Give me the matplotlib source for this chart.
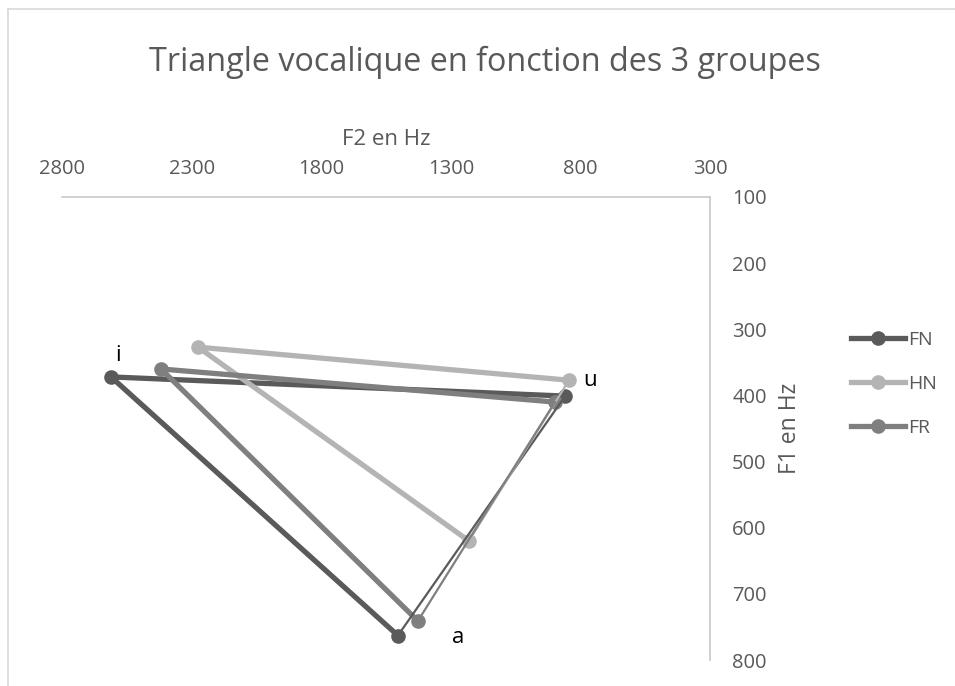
import matplotlib
matplotlib.use("Agg")
import matplotlib.pyplot as plt
from matplotlib.lines import Line2D

plt.rcParams['font.family'] = ['Open Sans', 'DejaVu Sans']

groups = ["FN", "HN", "FR"]
vowels = ["u", "i", "a"]
# F2 (Hz) for u, i, a
f2_FN = [859, 2611, 1504]
f2_HN = [844, 2275, 1230]
f2_FR = [898, 2418, 1427]
# F1 (Hz) for u, i, a
f1_FN = [401, 372, 763]
f1_HN = [377, 327, 620]
f1_FR = [410, 360, 741]

colors = {"FN": "#5a5a5a", "HN": "#b4b4b4", "FR": "#7f7f7f"}
data = {"FN": (f2_FN, f1_FN), "HN": (f2_HN, f1_HN), "FR": (f2_FR, f1_FR)}

x_ticks = [2800, 2300, 1800, 1300, 800, 300]
y_ticks = [100, 200, 300, 400, 500, 600, 700, 800]

W, H = 955, 686
fig = plt.figure(figsize=(W / 100, H / 100), dpi=100)
ax = fig.add_axes([62 / W, 1 - 660 / H, (710 - 62) / W, (660 - 197) / H])

for g in groups:
    xs, ys = data[g]
    ax.plot(xs, ys, color=colors[g], lw=3.8, marker='o', ms=9.5,
            solid_capstyle='round', zorder=2)
for g in groups:
    xs, ys = data[g]
    # closing segment a -> u drawn thin
    ax.plot([xs[2], xs[0]], [ys[2], ys[0]], color=colors[g], lw=1.6, zorder=3)

ax.set_xlim(2800, 300)
ax.set_ylim(800, 100)
ax.set_xticks(x_ticks)
ax.set_yticks(y_ticks)
ax.xaxis.tick_top()
ax.yaxis.tick_right()
ax.tick_params(length=0, labelsize=14.5, labelcolor="#595959", pad=13)
ax.tick_params(axis='y', pad=16)
for s in ["left", "bottom"]:
    ax.spines[s].set_visible(False)
for s in ["top", "right"]:
    ax.spines[s].set_color("#c8c8c8")
    ax.spines[s].set_linewidth(1.2)

ax.xaxis.set_label_position('top')
ax.set_xlabel("F2 en Hz", fontsize=16, color="#595959", labelpad=10)
ax.yaxis.set_label_position('right')
ax.set_ylabel("F1 en Hz", fontsize=16.5, color="#595959", labelpad=8)

# vowel labels
ax.text(2584, 339, "i", fontsize=16, color="black", ha="center", va="center")
ax.text(763, 377, "u", fontsize=16, color="black", ha="center", va="center")
ax.text(1272, 766, "a", fontsize=16, color="black", ha="center", va="center")

fig.text(485 / W, 1 - 62 / H, "Triangle vocalique en fonction des 3 groupes",
         fontsize=23.3, color="#595959", ha="center", va="center")

handles = [Line2D([0], [0], color=colors[g], lw=3.8, marker='o', ms=9.5) for g in groups]
fig.legend(handles, groups, loc="center left", bbox_to_anchor=(841 / W, 1 - 384 / H),
           frameon=False, fontsize=14, labelcolor="#595959", handlelength=2.8,
           handletextpad=0.15, labelspacing=1.35, borderpad=0)

# chart border (light)
fig.add_artist(Line2D([8 / W, 8 / W], [0, 1 - 9 / H], color="#d9d9d9", lw=1.2))
fig.add_artist(Line2D([8 / W, 1], [1 - 9 / H, 1 - 9 / H], color="#d9d9d9", lw=1.2))

fig.savefig("out.png", dpi=100)
